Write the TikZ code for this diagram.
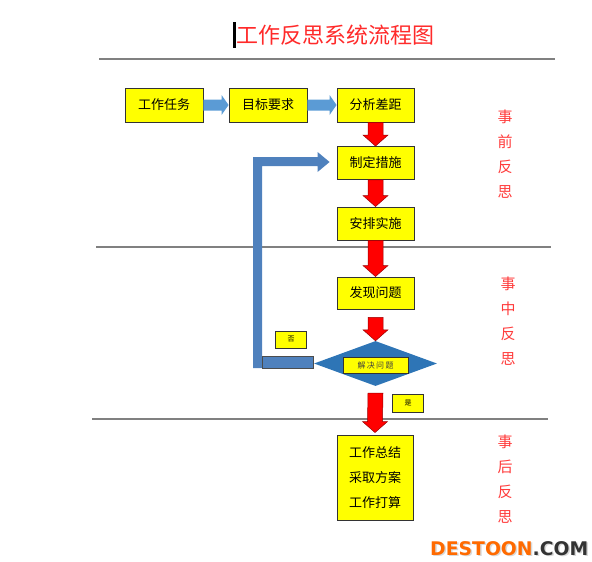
\documentclass[tikz,border=0pt]{standalone}
\usepackage{fontspec}
\newfontfamily\cjk{Noto Sans CJK SC}
\newfontfamily\wmfont{DejaVu Sans}
\usetikzlibrary{calc,shapes.geometric}
\definecolor{boxyellow}{HTML}{FFFF00}
\definecolor{arrowred}{HTML}{FF0000}
\definecolor{lightblue}{HTML}{5B9BD5}
\definecolor{bentblue}{HTML}{4F81BD}
\definecolor{diablue}{HTML}{2E75B6}
\definecolor{titlered}{HTML}{FF2A2A}
\definecolor{sidered}{HTML}{FF3B3B}
\definecolor{wmorange}{HTML}{FF6A00}
\definecolor{wmgray}{HTML}{333333}
\newcommand\mkdownarrow[2]{%
  \path[redarrow] ($(#1)+(-7.5,0)$) -- ($(#2)+(-7.5,-11)$) -- ($(#2)+(-12.5,-11)$) -- (#2)
    -- ($(#2)+(12.5,-11)$) -- ($(#2)+(7.5,-11)$) -- ($(#1)+(7.5,0)$) -- cycle;}
\newcommand\mkrightarrow[2]{%
  \path[bluearrow] ($(#1)+(0,-5.5)$) -- ($(#2)+(-7,-5.5)$) -- ($(#2)+(-7,-10)$) -- (#2)
    -- ($(#2)+(-7,10)$) -- ($(#2)+(-7,5.5)$) -- ($(#1)+(0,5.5)$) -- cycle;}
\tikzset{
  box/.style={draw=black!80, fill=boxyellow, line width=0.9pt, inner sep=0pt,
    minimum width=77pt, minimum height=33pt, font=\cjk\fontsize{13}{15}\selectfont},
  tag/.style={draw=black!80, fill=boxyellow, line width=0.8pt, inner sep=0pt,
    minimum width=31pt, minimum height=17pt, font=\cjk\fontsize{7}{8}\selectfont},
  redarrow/.style={fill=arrowred, draw=red!60!black, line width=0.5pt},
  bluearrow/.style={fill=lightblue},
  sep/.style={draw=black!50, line width=1.6pt},
  side/.style={text=sidered, align=center, inner sep=0pt, font=\cjk\fontsize{15}{25}\selectfont},
}
\begin{document}
\begin{tikzpicture}[x=1pt,y=-1pt]
\useasboundingbox (0,0) rectangle (592,562);
% title
\fill[black] (233,22) rectangle (236,48);
\node[anchor=west, inner sep=0pt, text=titlered, font=\cjk\fontsize{22}{24}\selectfont] (title) at (236,35) {工作反思系统流程图};
% separator lines
\draw[sep] (99,59) -- (555,59);
\draw[sep] (96,247) -- (551,247);
\draw[sep] (92,419) -- (548,419);
% boxes
\node[box, minimum width=78pt, minimum height=34pt] (b1) at (164,105) {工作任务};
\node[box, minimum width=78pt, minimum height=34pt] (b2) at (268,105) {目标要求};
\node[box, minimum height=34pt] (b3) at (375.5,105) {分析差距};
\node[box] (b4) at (375.5,163) {制定措施};
\node[box] (b5) at (375.5,223.5) {安排实施};
\node[box, minimum height=32pt] (b6) at (375.5,293) {发现问题};
\node[diamond, fill=diablue, minimum width=123pt, minimum height=45pt, inner sep=0pt] (d) at (375.5,363.5) {};
\node[draw=black!80, fill=boxyellow, line width=0.8pt, minimum width=65pt, minimum height=16pt, inner sep=0pt,
  font=\cjk\fontsize{8}{9}\selectfont, text=black!75] (dt) at (375.5,365) {解\,决\,问\,题};
\node[box, minimum width=76pt, minimum height=85pt, align=center, font=\cjk\fontsize{13}{25}\selectfont] (b7) at (375,477.5) {工作总结\\采取方案\\工作打算};
% tags
\node[tag] (no) at (291,339.5) {否};
\node[tag, minimum height=18pt] (yes) at (408,403) {是};
% blue arrows
\mkrightarrow{b1.east}{b2.west}
\mkrightarrow{b2.east}{b3.west}
% red arrows
\mkdownarrow{b3.south}{b4.north}
\mkdownarrow{b4.south}{b5.north}
\mkdownarrow{b5.south}{b6.north}
\mkdownarrow{$(b6.south)+(0,8)$}{d.north}
\mkdownarrow{$(d.south)+(0,7)$}{$(b7.north)+(0,-2)$}
% feedback bent arrow
\coordinate (tip) at ($(b4.west)+(-7,-1)$);
\coordinate (tipa) at ($(tip)+(0,-5)$);
\coordinate (tipb) at ($(tip)+(0,4)$);
\fill[bentblue] (253,368) -- (253,0|-tipa) -- ($(tip)+(-12,-5)$) -- ($(tip)+(-12,-10)$) -- (tip)
  -- ($(tip)+(-12,10)$) -- ($(tip)+(-12,4)$) -- (262,0|-tipb) -- (262,368) -- cycle;
\draw[fill=bentblue, draw=black!70, line width=0.8pt] (262,356) rectangle (d.west|-0,368);
% side labels
\node[side] (s1) at (505,154.5) {事\\前\\反\\思};
\node[side] (s2) at (508,321) {事\\中\\反\\思};
\node[side] (s3) at (505,479.5) {事\\后\\反\\思};
% watermark
\node[anchor=base west, inner sep=0pt, text=black!15, font=\wmfont\bfseries\fontsize{18.8}{22}\selectfont] at (431.5,556.5) {DESTOON.COM};
\node[anchor=base west, inner sep=0pt, font=\wmfont\bfseries\fontsize{18.8}{22}\selectfont] (wm) at (430,555) {\textcolor{wmorange}{DESTOON}\textcolor{wmgray}{.COM}};
\end{tikzpicture}
\end{document}
